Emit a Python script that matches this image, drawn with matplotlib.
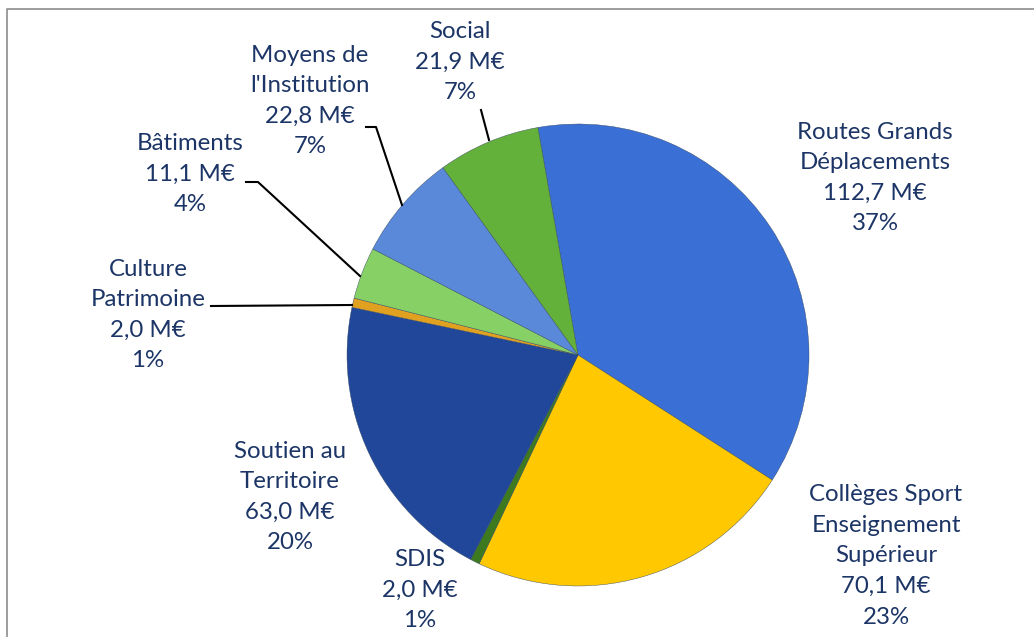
import matplotlib.pyplot as plt

noms = ["Routes Grands\nDéplacements", "Collèges Sport\nEnseignement\nSupérieur", "SDIS",
        "Soutien au\nTerritoire", "Culture\nPatrimoine", "Bâtiments",
        "Moyens de\nl'Institution", "Social"]
montants = [112.7, 70.1, 2.0, 63.0, 2.0, 11.1, 22.8, 21.9]
pourcents = ["37%", "23%", "1%", "20%", "1%", "4%", "7%", "7%"]
couleurs = ["#3A6FD6", "#FFC800", "#3D7A1F", "#21479A", "#E0A020", "#86D065", "#5B89DA", "#63B03A"]

# positions des étiquettes (pixels, origine en haut à gauche)
pos_lab = [(875, 178), (886, 556), (420, 590), (290, 497), (148, 315), (190, 174), (310, 101), (460, 62)]
# lignes de rappel
rappels = {4: [(211, 306), (352, 305)],
           5: [(246, 182), (258, 182), (360, 276)],
           6: [(366, 127), (376, 127), (402, 205)],
           7: [(481, 110), (489, 140)]}

W, H = 1034, 637
cx, cy, r = 578, 355, 231
texte = "#1C3566"

fig = plt.figure(figsize=(W / 100, H / 100), dpi=100)
ax = fig.add_axes([0, 0, 1, 1])

ax.pie(montants, colors=couleurs, startangle=100, counterclock=False,
       center=(cx, H - cy), radius=r, frame=True,
       wedgeprops=dict(edgecolor="#33475E", linewidth=0.3))
ax.set_xlim(0, W)
ax.set_ylim(0, H)
ax.set_aspect("equal")
ax.axis("off")

# cadre gris
ax.plot([7, 7, W + 5], [-5, H - 9, H - 9], color="#8C8C8C", lw=1.2)

for i, nom in enumerate(noms):
    lab = f"{nom}\n{montants[i]:.1f} M€\n{pourcents[i]}".replace(".", ",")
    x, y = pos_lab[i]
    ax.text(x, H - y, lab, ha="center", va="center", fontsize=17.3,
            family="Lato", color=texte, linespacing=1.56)

for pts in rappels.values():
    ax.plot([p[0] for p in pts], [H - p[1] for p in pts], color="black", lw=1.5)

fig.savefig("out.png", dpi=100)
